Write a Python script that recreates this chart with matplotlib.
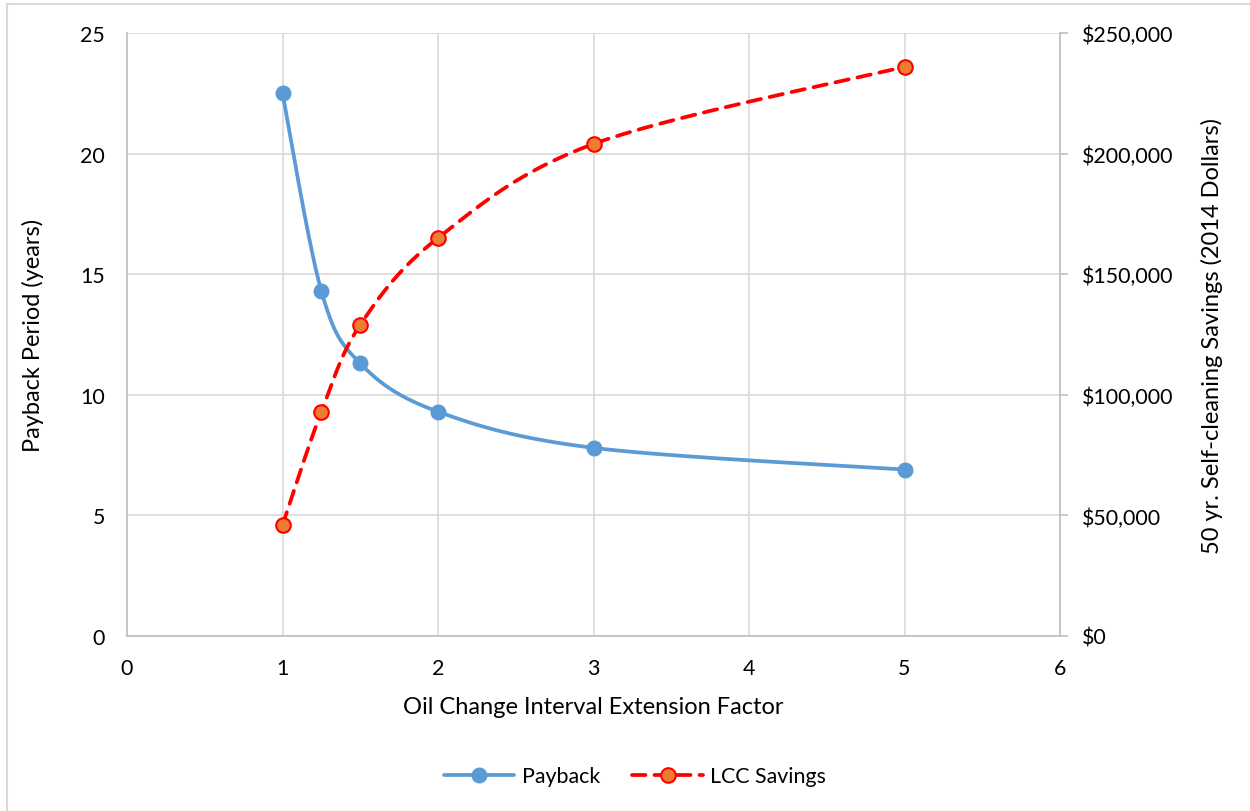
import numpy as np
import matplotlib
matplotlib.use("Agg")
import matplotlib.pyplot as plt
from matplotlib.ticker import FuncFormatter, MultipleLocator
from matplotlib.lines import Line2D

plt.rcParams['font.family'] = ['Lato', 'DejaVu Sans']

factor = [1, 1.25, 1.5, 2, 3, 5]
payback = [22.5, 14.3, 11.3, 9.3, 7.8, 6.9]
lcc_savings = [46000, 93000, 129000, 165000, 204000, 236000]

x_label = "Oil Change Interval Extension Factor"
y_left_label = "Payback Period (years)"
y_right_label = "50 yr. Self-cleaning Savings (2014 Dollars)"
series_names = ["Payback", "LCC Savings"]

BLUE = "#5b9bd5"
RED = "#ff0000"
ORANGE = "#ed7d31"
GRID = "#d9d9d9"
AXC = "#bfbfbf"
TXT = "#000000"

TICK_FS = 15.4
LABEL_FS = 17
LW = 2.7


def smooth(xs, ys, n=60):
    """Excel-like smoothed curve (Catmull-Rom Bezier through the data points)."""
    xs = np.asarray(xs, float)
    ys = np.asarray(ys, float)
    P = np.column_stack([xs, ys])
    out = []
    m = len(P)
    for i in range(m - 1):
        p0 = P[i - 1] if i > 0 else P[i]
        p1 = P[i]
        p2 = P[i + 1]
        p3 = P[i + 2] if i + 2 < m else P[i + 1]
        c1 = p1 + (p2 - p0) / 6.0
        c2 = p2 - (p3 - p1) / 6.0
        t = np.linspace(0, 1, n)[:, None]
        seg = ((1 - t) ** 3) * p1 + 3 * ((1 - t) ** 2) * t * c1 + 3 * (1 - t) * t ** 2 * c2 + t ** 3 * p2
        out.append(seg if i == 0 else seg[1:])
    out = np.vstack(out)
    return out[:, 0], out[:, 1]


fig = plt.figure(figsize=(12.5, 8.12), dpi=100)
ax = fig.add_axes([127 / 1250, 1 - 637 / 812, (1060 - 127) / 1250, (637 - 34) / 812])
ax2 = ax.twinx()

ax.set_xlim(0, 6)
ax.set_ylim(0, 25)
ax2.set_ylim(0, 250000)
ax.xaxis.set_major_locator(MultipleLocator(1))
ax.yaxis.set_major_locator(MultipleLocator(5))
ax2.yaxis.set_major_locator(MultipleLocator(50000))
ax2.yaxis.set_major_formatter(FuncFormatter(lambda v, p: "${:,.0f}".format(v)))

ax.grid(True, color=GRID, linewidth=1.2, zorder=0)
ax.set_axisbelow(True)

for a in (ax, ax2):
    for s in a.spines.values():
        s.set_visible(False)
for a, side in ((ax, 'left'), (ax, 'bottom'), (ax2, 'right')):
    a.spines[side].set_visible(True)
    a.spines[side].set_color(AXC)
    a.spines[side].set_linewidth(1.2)

ax.tick_params(axis='y', length=0, labelsize=TICK_FS, colors=TXT, pad=16)
ax.tick_params(axis='x', length=0, labelsize=TICK_FS, colors=TXT, pad=16)
ax2.tick_params(axis='y', length=6, width=1.2, color=AXC, direction='out',
                labelsize=TICK_FS, labelcolor=TXT, pad=10)

ax.set_xlabel(x_label, fontsize=LABEL_FS)
ax.set_ylabel(y_left_label, fontsize=LABEL_FS)
ax2.set_ylabel(y_right_label, fontsize=LABEL_FS)
W, H = 933.0, 603.0
ax.xaxis.set_label_coords(0.5, (637 - 708) / H)
ax.xaxis.label.set_va('center')
ax.yaxis.set_label_coords((33 - 127) / W, 0.5)
ax.yaxis.label.set_va('center')
ax2.yaxis.set_label_coords((1212 - 127) / W, 0.5)
ax2.yaxis.label.set_va('center')

# Payback (left axis)
sx, sy = smooth(factor, payback)
ax.plot(sx, sy, color=BLUE, linewidth=LW, solid_capstyle='round', zorder=3)
ax.plot(factor, payback, linestyle='none', marker='o', markersize=10.5,
        markerfacecolor=BLUE, markeredgecolor=BLUE, zorder=4)

# LCC savings (right axis)
lx, ly = smooth(factor, lcc_savings)
ax2.plot(lx, ly, color=RED, linewidth=LW, dashes=(3.6, 2.4), dash_capstyle='round', zorder=3)
ax2.plot(factor, lcc_savings, linestyle='none', marker='o', markersize=10.5,
         markerfacecolor=ORANGE, markeredgecolor=RED, markeredgewidth=1.5, zorder=4)

handles = [
    Line2D([], [], color=BLUE, linewidth=LW, marker='o', markersize=10.5,
           markerfacecolor=BLUE, markeredgecolor=BLUE, solid_capstyle='round'),
    Line2D([], [], color=RED, linewidth=LW, dashes=(3.6, 2.4), dash_capstyle='round',
           marker='o', markersize=10.5,
           markerfacecolor=ORANGE, markeredgecolor=RED, markeredgewidth=1.5),
]
fig.legend(handles, series_names, loc='center', bbox_to_anchor=(635 / 1250, 1 - 777 / 812),
           ncol=2, frameon=False, fontsize=TICK_FS, handlelength=3.3, columnspacing=1.5,
           handletextpad=0.35)

# chart border (light gray, left and top visible)
fig.add_artist(Line2D([7 / 1250, 7 / 1250], [0, 1 - 5 / 812], transform=fig.transFigure,
                      color=GRID, linewidth=1.5))
fig.add_artist(Line2D([7 / 1250, 1], [1 - 5 / 812, 1 - 5 / 812], transform=fig.transFigure,
                      color=GRID, linewidth=1.5))

fig.savefig("out.png", dpi=100)
